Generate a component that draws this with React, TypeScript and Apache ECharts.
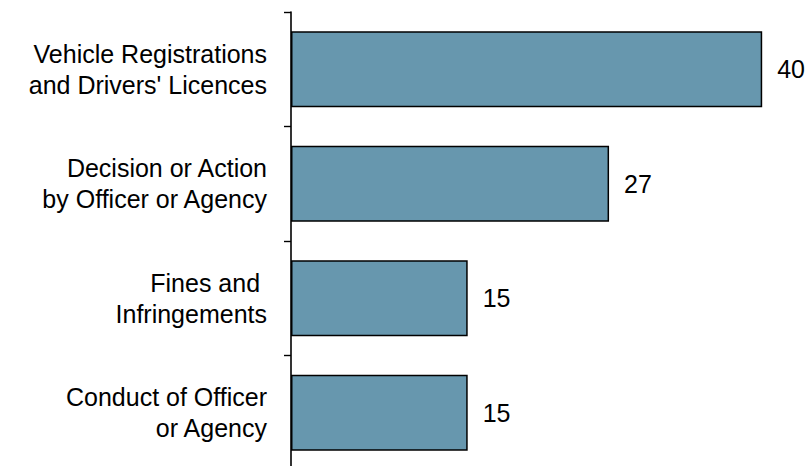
import React, { useEffect, useRef } from "react";
import * as echarts from "echarts";

const categories: string[] = [
  "Vehicle Registrations\nand Drivers' Licences",
  "Decision or Action\nby Officer or Agency",
  "Fines and \nInfringements",
  "Conduct of Officer\nor Agency",
];
const values: number[] = [40, 27, 15, 15];

export default function App() {
  const ref = useRef<HTMLDivElement>(null);
  useEffect(() => {
    document.body.style.margin = "0";
    const chart = echarts.init(ref.current!, null, { renderer: "svg" });
    chart.setOption({
      animation: false,
      backgroundColor: "#ffffff",
      grid: { left: 291, top: 12, width: 589, height: 458, outerBoundsMode: "none", containLabel: false },
      xAxis: {
        type: "value",
        min: 0,
        max: 50,
        show: false,
      },
      yAxis: {
        type: "category",
        data: categories,
        inverse: true,
        axisLine: { show: true, lineStyle: { color: "#000", width: 1.6 } },
        axisTick: { show: true, length: 7, lineStyle: { color: "#000", width: 1.4 } },
        axisLabel: {
          margin: 24,
          color: "#000",
          fontFamily: "Liberation Sans, Arial, sans-serif",
          fontSize: 25,
          lineHeight: 31,
          align: "right",
        },
        splitLine: { show: false },
      },
      series: [
        {
          type: "bar",
          data: values,
          barCategoryGap: "33.6%",
          itemStyle: { color: "#6797ae", borderColor: "#000", borderWidth: 1.5 },
          label: {
            show: true,
            position: "right",
            distance: 15,
            color: "#000",
            fontFamily: "Liberation Sans, Arial, sans-serif",
            fontSize: 25,
          },
        },
      ],
    });
    return () => chart.dispose();
  }, []);
  return <div ref={ref} style={{ width: 811, height: 466 }} />;
}
